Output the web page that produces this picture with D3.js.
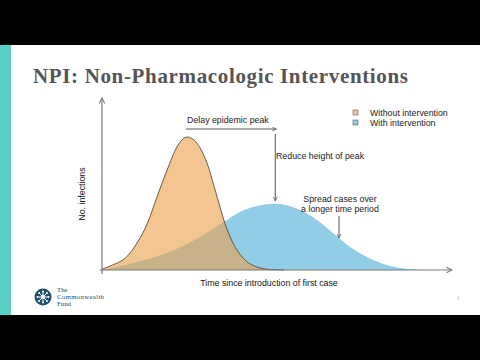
<!DOCTYPE html>
<html>
<head>
<meta charset="utf-8">
<script src="https://cdn.jsdelivr.net/npm/d3@7"></script>
<style>
  body { margin: 0; background: #000; }
  svg { display: block; }
</style>
</head>
<body>
<svg id="chart" width="480" height="360"></svg>
<script>
// curve readings: time since first case (0-100) and no. infections (0-100)
var withoutTime = [0, 3, 7, 10, 13, 15.7, 18.6, 21.4, 24.3, 27.1, 30, 32.9, 35.1, 37.4, 40.3, 44.3, 48, 52];
var withoutValue = [0.5, 2.9, 7.6, 15.7, 27.3, 42.4, 58.1, 71.5, 77.3, 73.8, 62.2, 42.4, 27.3, 15.7, 7, 1.7, 0.3, 0];
var withTime = [0, 8.9, 18.6, 28, 35.7, 39.4, 44.3, 49.5, 56.6, 61.4, 66, 70.9, 75.7, 81.4, 87.1, 92.9];
var withValue = [0, 4.1, 9.9, 19.2, 29.1, 33.7, 37.2, 38.5, 34.9, 29.1, 21.5, 13.4, 7.6, 2.9, 0.6, 0];

var legendLabels = ["Without intervention", "With intervention"];
var legendColors = ["#f3c591", "#92cde8"];
var xLabel = "Time since introduction of first case";
var yLabel = "No. infections";
var titleText = "NPI: Non-Pharmacologic Interventions";
var logoWords = ["The", "Commonwealth", "Fund"];

var svg = d3.select("#chart");

// slide background between the black bars
svg.append("rect").attr("x", 0).attr("y", 45).attr("width", 480).attr("height", 270).attr("fill", "#fff");
svg.append("rect").attr("x", 0).attr("y", 45).attr("width", 11).attr("height", 270).attr("fill", "#5ccfc3");

svg.append("text")
  .attr("x", 33).attr("y", 83)
  .attr("font-family", "Liberation Serif, serif")
  .attr("font-weight", "bold")
  .attr("font-size", 21)
  .attr("fill", "#555")
  .attr("textLength", 375)
  .text(titleText);

var x = d3.scaleLinear().domain([0, 100]).range([102, 452]);
var y = d3.scaleLinear().domain([0, 100]).range([270, 98]);

function zip(ts, vs) {
  return ts.map(function (t, i) { return {t: t, v: vs[i]}; });
}

var area = d3.area()
  .x(function (d) { return x(d.t); })
  .y0(y(0))
  .y1(function (d) { return y(d.v); })
  .curve(d3.curveMonotoneX);

var line = d3.line()
  .x(function (d) { return x(d.t); })
  .y(function (d) { return y(d.v); })
  .curve(d3.curveMonotoneX);

var withData = zip(withTime, withValue);
var withoutData = zip(withoutTime, withoutValue);

// clip used to paint the overlap of the two curves
svg.append("clipPath").attr("id", "withClip")
  .append("path").attr("d", area(withData));

svg.append("path").attr("d", area(withData)).attr("fill", legendColors[1]);
svg.append("path").attr("d", area(withoutData)).attr("fill", legendColors[0]);
svg.append("path").attr("d", area(withoutData)).attr("fill", "#c8b28a").attr("clip-path", "url(#withClip)");
svg.append("path").attr("d", line(withoutData)).attr("fill", "none").attr("stroke", "#4a3a2a").attr("stroke-width", 0.8);

// arrow heads
var defs = svg.append("defs");
function addMarker(id, color, size) {
  defs.append("marker")
    .attr("id", id)
    .attr("viewBox", "0 0 10 10")
    .attr("refX", 9).attr("refY", 5)
    .attr("markerWidth", size).attr("markerHeight", size)
    .attr("markerUnits", "userSpaceOnUse")
    .attr("orient", "auto")
    .append("path")
    .attr("d", "M1,1 L9,5 L1,9")
    .attr("fill", "none")
    .attr("stroke", color)
    .attr("stroke-width", 1.5);
}
addMarker("axisArrow", "#7a7a7a", 7);
addMarker("noteArrow", "#555", 5);

// axes without ticks, only the arrowed lines
var xAxis = svg.append("g")
  .attr("transform", "translate(0," + y(0) + ")")
  .call(d3.axisBottom(x).tickValues([]).tickSizeOuter(0));
xAxis.select(".domain").attr("stroke", "#7a7a7a").attr("stroke-width", 1.2)
  .attr("d", "M" + (x(0) - 2) + ",0H" + x(100))
  .attr("marker-end", "url(#axisArrow)");

var yAxis = svg.append("g")
  .attr("transform", "translate(" + x(0) + ",0)")
  .call(d3.axisLeft(y).tickValues([]).tickSizeOuter(0));
yAxis.select(".domain").attr("stroke", "#7a7a7a").attr("stroke-width", 1.2)
  .attr("d", "M0," + (y(0) + 4) + "V" + y(100))
  .attr("marker-end", "url(#axisArrow)");

svg.append("text")
  .attr("x", 269).attr("y", 286)
  .attr("text-anchor", "middle")
  .attr("font-family", "Liberation Sans, Arial, sans-serif")
  .attr("font-size", 8.8).attr("fill", "#111")
  .text(xLabel);

svg.append("text")
  .attr("transform", "translate(85,194) rotate(-90)")
  .attr("text-anchor", "middle")
  .attr("font-family", "Liberation Sans, Arial, sans-serif")
  .attr("font-size", 8.8).attr("fill", "#111")
  .text(yLabel);

// annotations
function note(txt, tx, ty, anchor) {
  svg.append("text")
    .attr("x", tx).attr("y", ty)
    .attr("text-anchor", anchor)
    .attr("font-family", "Liberation Sans, Arial, sans-serif")
    .attr("font-size", 8.8).attr("fill", "#222")
    .text(txt);
}
function arrow(x1, y1, x2, y2) {
  svg.append("line")
    .attr("x1", x1).attr("y1", y1).attr("x2", x2).attr("y2", y2)
    .attr("stroke", "#555").attr("stroke-width", 1)
    .attr("marker-end", "url(#noteArrow)");
}

var peakWithout = withoutData[d3.maxIndex(withoutValue)];
var peakWith = withData[d3.maxIndex(withValue)];

note("Delay epidemic peak", x(peakWithout.t), 123, "start");
arrow(x(peakWithout.t) - 1, 129, x(peakWith.t) + 1, 129);
note("Reduce height of peak", 276, 159, "start");
arrow(x(peakWith.t), 134, x(peakWith.t), y(peakWith.v) - 3);
note("Spread cases over", 340, 202, "middle");
note("a longer time period", 340, 212, "middle");
arrow(339, 216, 339, 238);

// legend
var legend = svg.append("g").attr("transform", "translate(353,110)");
legendLabels.forEach(function (label, i) {
  legend.append("rect")
    .attr("x", 0).attr("y", i * 10)
    .attr("width", 5).attr("height", 5)
    .attr("fill", legendColors[i])
    .attr("stroke", "#666").attr("stroke-width", 0.6);
  legend.append("text")
    .attr("x", 17).attr("y", i * 10 + 5.5)
    .attr("font-family", "Liberation Sans, Arial, sans-serif")
    .attr("font-size", 8.8).attr("fill", "#222")
    .text(label);
});

// commonwealth fund logo
var logo = svg.append("g").attr("transform", "translate(43,297)");
logo.append("circle").attr("r", 8.5).attr("fill", "#1f4e6e");
d3.range(8).forEach(function (i) {
  var a = i * Math.PI / 4;
  logo.append("line")
    .attr("x1", 0).attr("y1", 0)
    .attr("x2", 6 * Math.cos(a)).attr("y2", 6 * Math.sin(a))
    .attr("stroke", "#fff").attr("stroke-width", 1);
  logo.append("circle")
    .attr("cx", 5.5 * Math.cos(a)).attr("cy", 5.5 * Math.sin(a))
    .attr("r", 1).attr("fill", "#fff");
});
logo.append("circle").attr("r", 2).attr("fill", "#fff");
logoWords.forEach(function (w, i) {
  logo.append("text")
    .attr("x", 14).attr("y", -5.5 + i * 7.2)
    .attr("font-family", "Liberation Serif, serif")
    .attr("font-size", 6.8).attr("fill", "#1f4e6e")
    .attr("textLength", w === "Commonwealth" ? 47 : null)
    .text(w);
});

svg.append("text")
  .attr("x", 458).attr("y", 299)
  .attr("text-anchor", "middle")
  .attr("font-family", "Liberation Sans, Arial, sans-serif")
  .attr("font-size", 4).attr("fill", "#aaa")
  .text("4");
</script>
</body>
</html>
